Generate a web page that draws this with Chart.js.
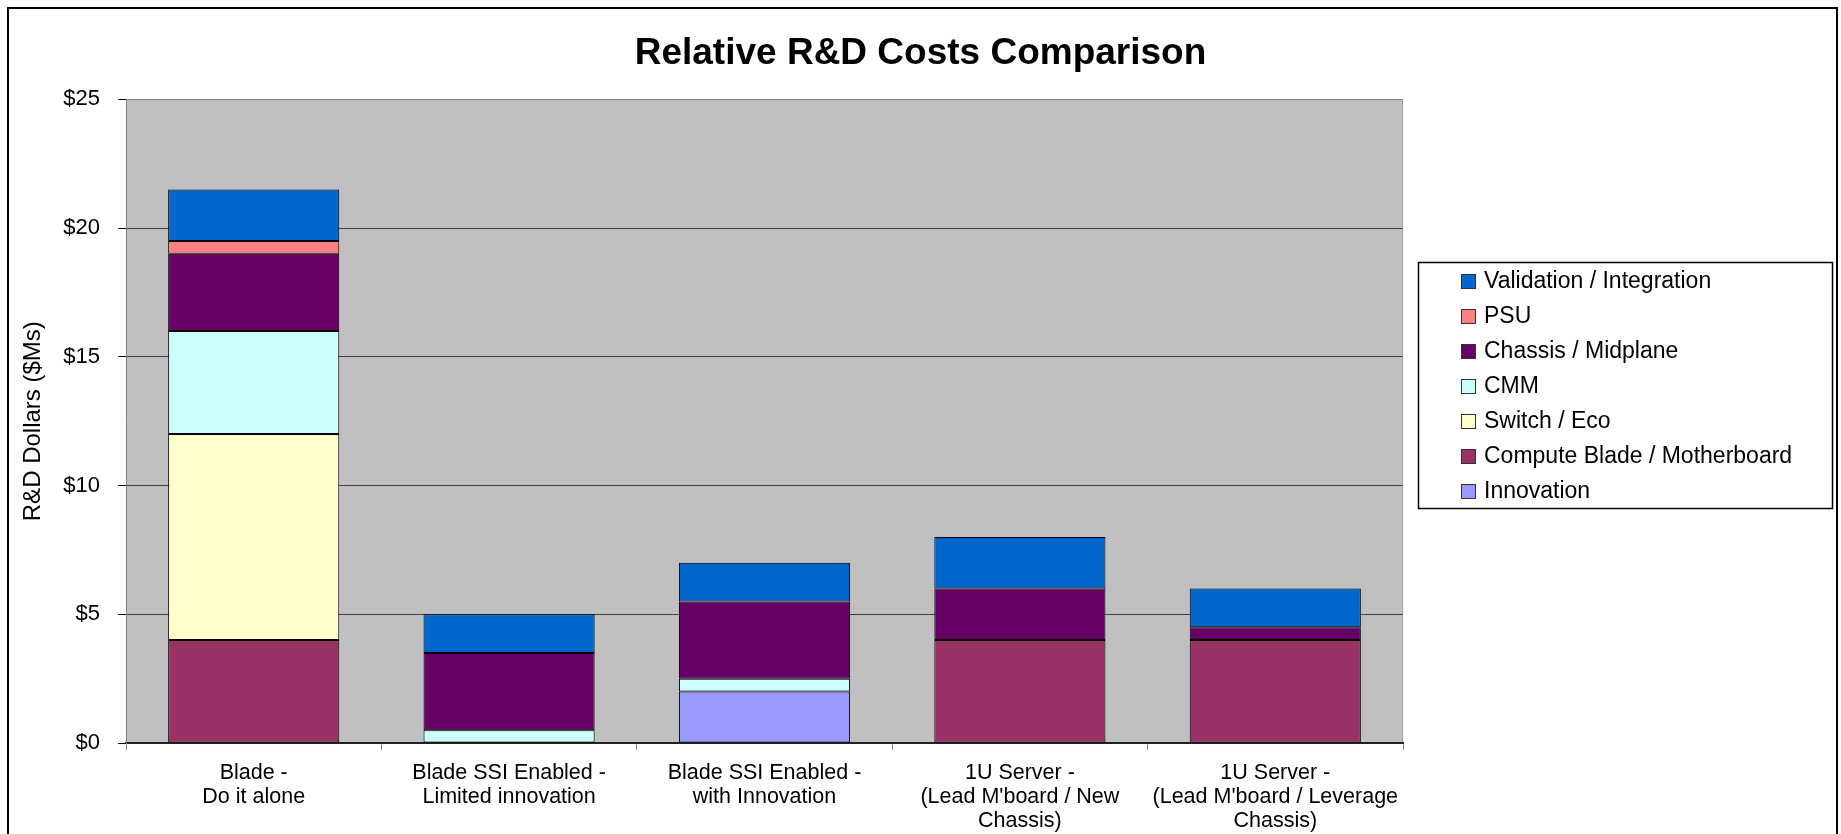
<!DOCTYPE html>
<html>
<head>
<meta charset="utf-8">
<title>Relative R&amp;D Costs Comparison</title>
<script src="https://cdn.jsdelivr.net/npm/chart.js@4.4.1/dist/chart.umd.min.js"></script>
<style>
    body { margin: 0; background: #fff; }
    #wrap { position: relative; width: 1841px; height: 834px; }
</style>
</head>
<body>
<div id="wrap">
    <canvas id="costChart" width="1841" height="834"></canvas>
</div>
<script>
// categories (x axis)
const categories = [
    ["Blade -", "Do it alone"],
    ["Blade SSI Enabled -", "Limited innovation"],
    ["Blade SSI Enabled -", "with Innovation"],
    ["1U Server -", "(Lead M'board / New", "Chassis)"],
    ["1U Server -", "(Lead M'board / Leverage", "Chassis)"]
];

// series, bottom of the stack first ($M)
const innovation   = [null, null, 2, null, null];
const computeBlade = [4, null, null, 4, 4];
const switchEco    = [8, null, null, null, null];
const cmm          = [4, 0.5, 0.5, null, null];
const chassis      = [3, 3, 3, 2, 0.5];
const psu          = [0.5, null, null, null, null];
const validation   = [2, 1.5, 1.5, 2, 1.5];

const seriesNames = ["Innovation", "Compute Blade / Motherboard", "Switch / Eco", "CMM",
    "Chassis / Midplane", "PSU", "Validation / Integration"];
const seriesData = [innovation, computeBlade, switchEco, cmm, chassis, psu, validation];
const seriesColors = ["#9999FF", "#993366", "#FFFFCC", "#CCFFFF", "#660066", "#FF8080", "#0066CC"];

const yTicks = [0, 5, 10, 15, 20, 25];

Chart.defaults.font.family = "'Liberation Sans', Arial, sans-serif";
Chart.defaults.color = "#000";

// grey plot area + outline of the whole chart
const backdrop = {
    id: "backdrop",
    afterLayout(chart) {
        // title is centred on the whole chart, not just the plot
        let t = chart.titleBlock;
        if (t) {
            t.left = 0;
            t.right = chart.width;
            t.width = chart.width;
        }
    },
    beforeDraw(chart) {
        const {ctx, chartArea: a} = chart;
        ctx.save();
        ctx.fillStyle = "#C0C0C0";
        ctx.fillRect(a.left, a.top, a.right - a.left, a.bottom - a.top);
        ctx.strokeStyle = "#a0a0a0";
        ctx.lineWidth = 1;
        ctx.beginPath();
        ctx.moveTo(a.right - 0.5, a.top);
        ctx.lineTo(a.right - 0.5, a.bottom);
        ctx.stroke();
        ctx.restore();
    },
    afterDraw(chart) {
        const ctx = chart.ctx;
        ctx.save();
        ctx.strokeStyle = "#000";
        ctx.lineWidth = 2;
        ctx.strokeRect(8, 8, 1829, 840);
        ctx.restore();
    }
};

// boxed legend on the right, top series first
const boxLegend = {
    id: "boxLegend",
    afterDraw(chart) {
        const ctx = chart.ctx;
        ctx.save();
        ctx.strokeStyle = "#000";
        ctx.lineWidth = 1.5;
        ctx.strokeRect(1418.5, 262.5, 414, 246);
        ctx.font = "23px 'Liberation Sans', Arial, sans-serif";
        ctx.textBaseline = "middle";
        ctx.textAlign = "left";
        let ds = chart.data.datasets.slice().reverse();
        ds.forEach((d, i) => {
            let y = 281 + i * 35;
            ctx.fillStyle = d.backgroundColor;
            ctx.fillRect(1461, y - 7, 15, 15);
            ctx.strokeStyle = "#333";
            ctx.lineWidth = 1;
            ctx.strokeRect(1461.5, y - 6.5, 14, 14);
            ctx.fillStyle = "#000";
            ctx.fillText(d.label, 1484, y + 1);
        });
        ctx.restore();
    }
};

let ctx = document.getElementById("costChart").getContext("2d");

let costChart = new Chart(ctx, {
    type: "bar",
    data: {
        labels: categories,
        datasets: seriesNames.map((name, i) => ({
            label: name,
            data: seriesData[i],
            backgroundColor: seriesColors[i],
            borderColor: "#000",
            borderWidth: 1,
            borderSkipped: false,
            barPercentage: 1,
            categoryPercentage: 0.67
        }))
    },
    options: {
        responsive: false,
        animation: false,
        devicePixelRatio: 1,
        layout: {padding: {left: 0, right: 438, top: 0, bottom: 0}},
        plugins: {
            legend: {display: false},
            tooltip: {enabled: false},
            title: {
                display: true,
                text: "Relative R&D Costs Comparison",
                font: {size: 37, weight: "bold"},
                lineHeight: 1.2,
                padding: {top: 32, bottom: 23}
            }
        },
        scales: {
            x: {
                stacked: true,
                afterFit: s => { s.height = 91; },
                grid: {display: true, drawOnChartArea: false, drawTicks: true, tickLength: 7, color: "#808080", offset: true},
                border: {display: true, color: "#222", width: 2},
                ticks: {font: {size: 21.5, lineHeight: 1.12}, padding: 11, maxRotation: 0, autoSkip: false}
            },
            y: {
                stacked: true,
                min: 0,
                max: 25,
                afterFit: s => { s.width = 126; },
                afterBuildTicks: s => { s.ticks = yTicks.map(v => ({value: v})); },
                grid: {
                    color: c => (c.tick && c.tick.value === 25) ? "#808080" : "#404040",
                    tickColor: "#000",
                    tickLength: 8
                },
                border: {display: true, color: "#808080", width: 1},
                ticks: {
                    font: {size: 22},
                    padding: 18,
                    callback: v => "$" + v
                },
                title: {
                    display: true,
                    text: "R&D Dollars ($Ms)",
                    font: {size: 24},
                    padding: {top: 19, bottom: 0}
                }
            }
        }
    },
    plugins: [backdrop, boxLegend]
});
</script>
</body>
</html>
